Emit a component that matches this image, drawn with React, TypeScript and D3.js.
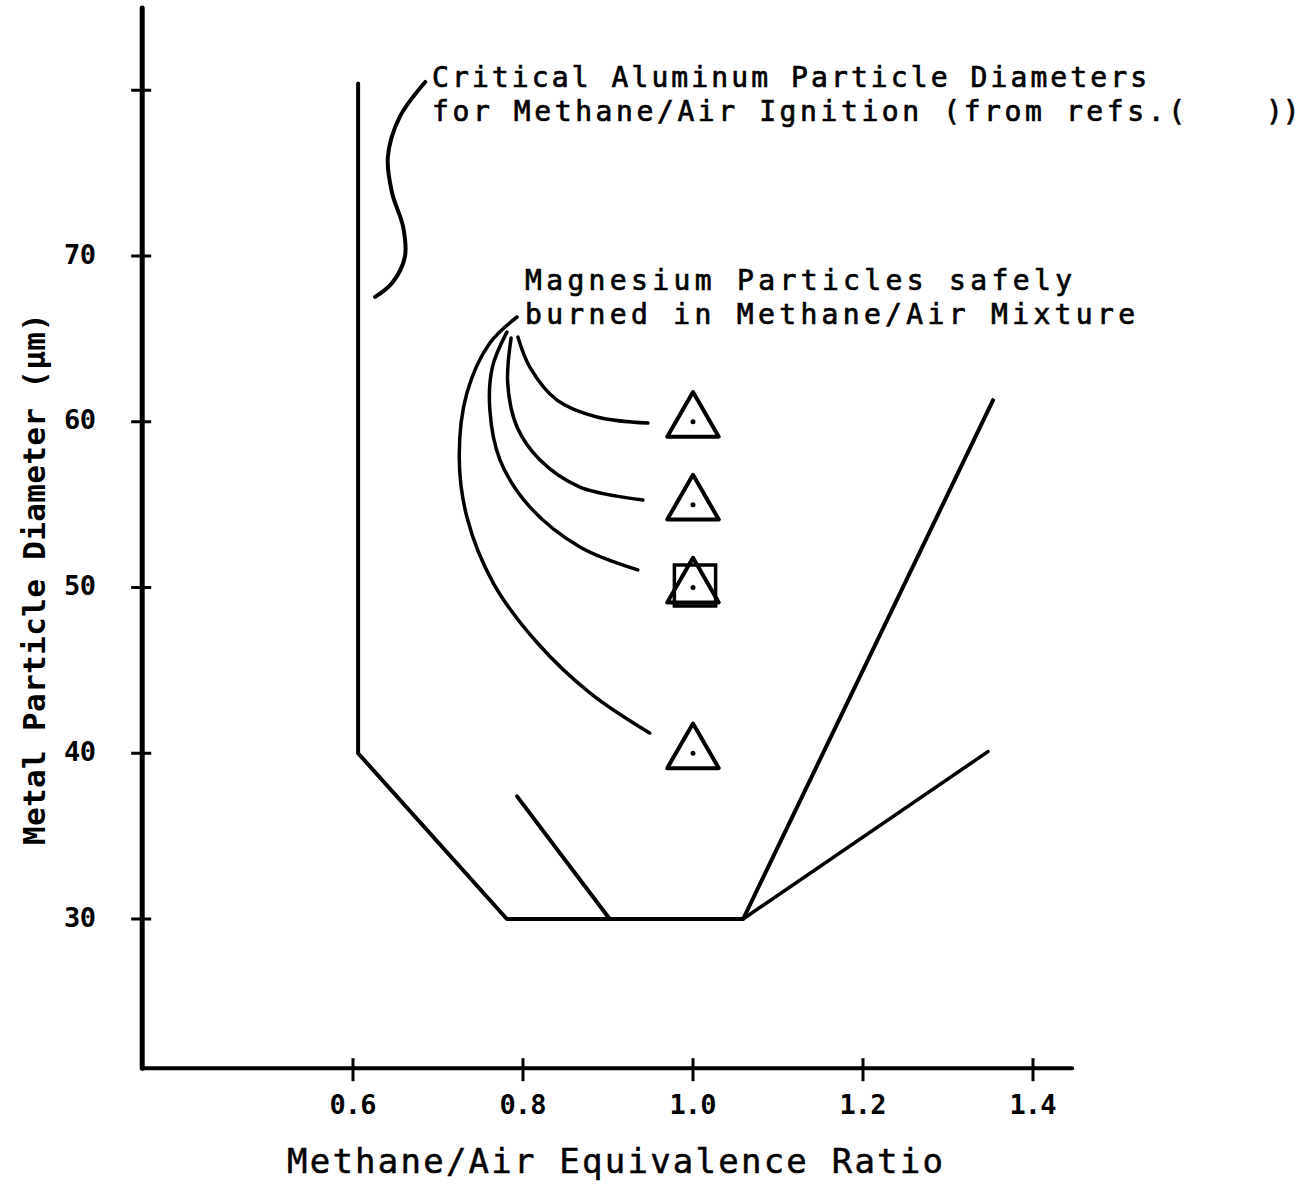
import * as d3 from "d3";

// ticks on the two axes
const xTicks = [0.6, 0.8, 1.0, 1.2, 1.4];
const yTicks = [30, 40, 50, 60, 70, 80];
const yTickLabels = ["30", "40", "50", "60", "70", ""];

// axis extents (data units)
const xExtent = [0.352, 1.446];
const yExtent = [21.0, 84.96];

// critical aluminum particle boundary: [equivalence ratio, diameter]
const criticalLine: [number, number][] = [
  [0.606, 80.4],
  [0.606, 40],
  [0.781, 30],
  [1.059, 30],
  [1.353, 61.3],
];
const criticalBranch: [number, number][] = [
  [1.059, 30],
  [1.347, 40.1],
];
const innerLine: [number, number][] = [
  [0.793, 37.4],
  [0.902, 30],
];

// magnesium particles safely burned
const mgRatio = [1.0, 1.0, 1.0, 1.0];
const mgDiameter = [60, 55, 50, 40];
const squareRatio = [1.0];
const squareDiameter = [50];

// leader curves for the labels
const braceLeader: [number, number][] = [
  [0.685, 80.5],
  [0.655, 78.39],
  [0.641, 75.97],
  [0.646, 73.8],
  [0.659, 71.75],
  [0.661, 69.94],
  [0.646, 68.37],
  [0.626, 67.53],
];
const mgLeaders: [number, number][][] = [
  [
    [0.794, 65.11],
    [0.808, 63.3],
    [0.84, 61.31],
    [0.887, 60.29],
    [0.947, 59.92],
  ],
  [
    [0.786, 65.05],
    [0.782, 62.34],
    [0.793, 59.68],
    [0.82, 57.69],
    [0.867, 56.06],
    [0.941, 55.28],
  ],
  [
    [0.781, 65.41],
    [0.764, 63.3],
    [0.761, 60.71],
    [0.773, 57.69],
    [0.808, 54.86],
    [0.867, 52.44],
    [0.935, 51.06],
  ],
  [
    [0.793, 66.32],
    [0.761, 64.75],
    [0.734, 61.73],
    [0.725, 57.87],
    [0.734, 54.25],
    [0.765, 50.27],
    [0.817, 46.65],
    [0.879, 43.63],
    [0.949, 41.22],
  ],
];

const font = "'DejaVu Sans Mono', monospace";

export default function App() {
  const width = 1309;
  const height = 1201;

  const x = d3.scaleLinear().domain([0.6, 1.4]).range([353, 1033]);
  const y = d3.scaleLinear().domain([30, 70]).range([919, 256]);

  const straight = d3
    .line<[number, number]>()
    .x((d) => x(d[0]))
    .y((d) => y(d[1]));
  const smooth = d3
    .line<[number, number]>()
    .x((d) => x(d[0]))
    .y((d) => y(d[1]))
    .curve(d3.curveCatmullRom);

  const tri = d3.symbol(d3.symbolTriangle, 1150)();
  const sq = d3.symbol(d3.symbolSquare, 1700)();

  const x0 = x(xExtent[0]);
  const y0 = y(yExtent[0]);

  const annot = {
    fontFamily: font,
    fontSize: 28,
    stroke: "#000",
    strokeWidth: 0.7,
    lengthAdjust: "spacing",
  } as const;

  return (
    <svg
      width={width}
      height={height}
      style={{ position: "absolute", left: 0, top: 0, background: "#fff" }}
    >
      <rect width={width} height={height} fill="#fff" />

      {/* axes */}
      <line
        x1={x0}
        x2={x0}
        y1={y(yExtent[1])}
        y2={y0}
        stroke="#000"
        strokeWidth={5}
        strokeLinecap="round"
      />
      <line
        x1={x0}
        x2={x(xExtent[1])}
        y1={y0}
        y2={y0}
        stroke="#000"
        strokeWidth={4}
        strokeLinecap="round"
      />
      {yTicks.map((t, i) => (
        <g key={"yt" + t}>
          <line
            x1={x0 - 11}
            x2={x0 + 9}
            y1={y(t)}
            y2={y(t)}
            stroke="#000"
            strokeWidth={3}
          />
          <text
            x={96}
            y={y(t)}
            textAnchor="end"
            dominantBaseline="middle"
            fontFamily={font}
            fontWeight="bold"
            fontSize={27}
            textLength={32}
            lengthAdjust="spacing"
          >
            {yTickLabels[i]}
          </text>
        </g>
      ))}
      {xTicks.map((t) => (
        <g key={"xt" + t}>
          <line
            x1={x(t)}
            x2={x(t)}
            y1={y0 - 10}
            y2={y0 + 13}
            stroke="#000"
            strokeWidth={3}
          />
          <text
            x={x(t)}
            y={1106}
            textAnchor="middle"
            dominantBaseline="middle"
            fontFamily={font}
            fontWeight="bold"
            fontSize={27}
            textLength={47}
            lengthAdjust="spacing"
          >
            {t.toFixed(1)}
          </text>
        </g>
      ))}

      {/* axis titles */}
      <text
        x={615}
        y={1173}
        textAnchor="middle"
        fontFamily={font}
        fontSize={34}
        stroke="#000"
        strokeWidth={0.5}
        textLength={656}
        lengthAdjust="spacing"
      >
        Methane/Air Equivalence Ratio
      </text>
      <text
        transform={`translate(45,579) rotate(-90)`}
        textAnchor="middle"
        fontFamily={font}
        fontWeight="bold"
        fontSize={31}
        textLength={532}
        lengthAdjust="spacing"
      >
        Metal Particle Diameter (μm)
      </text>

      {/* boundary lines */}
      <path
        d={straight(criticalLine) ?? ""}
        fill="none"
        stroke="#000"
        strokeWidth={4}
        strokeLinejoin="round"
        strokeLinecap="round"
      />
      <path
        d={straight(criticalBranch) ?? ""}
        fill="none"
        stroke="#000"
        strokeWidth={3.5}
        strokeLinecap="round"
      />
      <path
        d={straight(innerLine) ?? ""}
        fill="none"
        stroke="#000"
        strokeWidth={4}
        strokeLinecap="round"
      />

      {/* leaders */}
      <path
        d={smooth(braceLeader) ?? ""}
        fill="none"
        stroke="#000"
        strokeWidth={4}
        strokeLinecap="round"
      />
      {mgLeaders.map((l, i) => (
        <path
          key={"ml" + i}
          d={smooth(l) ?? ""}
          fill="none"
          stroke="#000"
          strokeWidth={3.5}
          strokeLinecap="round"
        />
      ))}

      {/* markers */}
      {squareRatio.map((r, i) => (
        <path
          key={"sq" + i}
          d={sq ?? ""}
          transform={`translate(${x(r) + 2},${y(squareDiameter[i]) - 2})`}
          fill="none"
          stroke="#000"
          strokeWidth={3.5}
        />
      ))}
      {mgRatio.map((r, i) => (
        <g key={"mg" + i} transform={`translate(${x(r)},${y(mgDiameter[i])})`}>
          <path
            d={tri ?? ""}
            fill="none"
            stroke="#000"
            strokeWidth={4}
            strokeLinejoin="round"
          />
          <circle r={2.5} fill="#000" />
        </g>
      ))}

      {/* annotations */}
      <text x={432} y={87} {...annot} textLength={715}>
        Critical Aluminum Particle Diameters
      </text>
      <text x={432} y={121} {...annot} textLength={753}>
        for Methane/Air Ignition (from refs.(
      </text>
      <text x={1266} y={121} {...annot}>
        ))
      </text>
      <text x={525} y={290} {...annot} textLength={547}>
        Magnesium Particles safely
      </text>
      <text x={525} y={324} {...annot} textLength={610}>
        burned in Methane/Air Mixture
      </text>
    </svg>
  );
}
